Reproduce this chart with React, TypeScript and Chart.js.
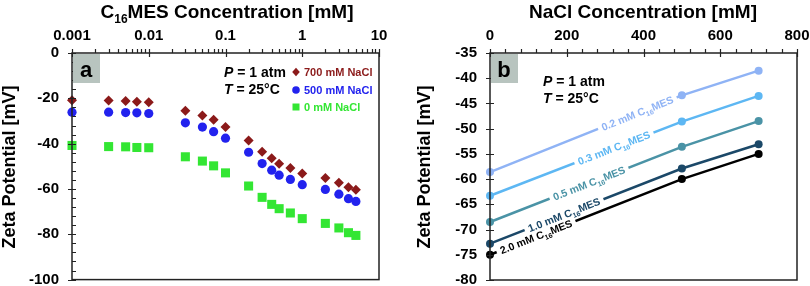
import React, { useEffect, useRef } from "react";
import { Chart, registerables } from "chart.js";
Chart.register(...registerables);

// ---------- Panel a data ----------
const concA = [0.001, 0.003, 0.005, 0.007, 0.01, 0.03, 0.05, 0.07, 0.1, 0.2, 0.3, 0.4, 0.5, 0.7, 1, 2, 3, 4, 5];
const zeta700 = [-20.8, -21, -21.2, -21.5, -21.7, -25.5, -27.6, -29.5, -32.7, -38.6, -43.6, -46.5, -48.9, -50.8, -53.2, -55.2, -57.3, -59.2, -60.4];
const zeta500 = [-26.1, -26.1, -26.3, -26.4, -26.7, -30.8, -32.7, -34.7, -37.6, -43.8, -48.8, -51.7, -53.9, -55.8, -58.1, -60.2, -62.3, -64.3, -65.5];
const zeta0 = [-40.8, -41.3, -41.4, -41.7, -41.8, -45.8, -47.7, -49.8, -52.9, -58.7, -63.7, -66.8, -68.7, -70.6, -73.1, -75.2, -77.2, -79.3, -80.5];
const seriesNamesA = ["700 mM NaCl", "500 mM NaCl", "0 mM NaCl"];
const xTicksA = [0.001, 0.01, 0.1, 1, 10];
const xTickLabelsA = ["0.001", "0.01", "0.1", "1", "10"];

// ---------- Panel b data ----------
const naclB = [0, 500, 700];
const z02 = [-58.6, -43.4, -38.5];
const z03 = [-63.3, -48.6, -43.5];
const z05 = [-68.5, -53.6, -48.5];
const z10 = [-72.8, -57.9, -53.1];
const z20 = [-75.0, -60.0, -55.0];
const labelsB = ["0.2", "0.3", "0.5", "1.0", "2.0"];
const labelPosB = [384, 323, 258, 193, 120];
const xTicksB = [0, 200, 400, 600, 800];

const FONT = "'Liberation Sans', Arial, sans-serif";
const colorsA = ["#8b1a1a", "#2222ee", "#33e633"];
const colorsB = ["#8fb3f5", "#5db7f3", "#4a93a6", "#1b4868", "#000000"];

type Part = { t: string; sub?: boolean; it?: boolean };

function drawParts(ctx: CanvasRenderingContext2D, parts: Part[], x: number, y: number, size: number, align: "left" | "center", color: string) {
  const fontFor = (p: Part) => `${p.it ? "italic " : ""}bold ${p.sub ? Math.round(size * 0.62) : size}px ${FONT}`;
  let total = 0;
  for (const p of parts) { ctx.font = fontFor(p); total += ctx.measureText(p.t).width; }
  let cx = align === "center" ? x - total / 2 : x;
  ctx.fillStyle = color;
  ctx.textAlign = "left";
  ctx.textBaseline = "alphabetic";
  for (const p of parts) {
    ctx.font = fontFor(p);
    ctx.fillText(p.t, cx, p.sub ? y + size * 0.28 : y);
    cx += ctx.measureText(p.t).width;
  }
  return total;
}

function measureParts(ctx: CanvasRenderingContext2D, parts: Part[], size: number) {
  let total = 0;
  for (const p of parts) {
    ctx.font = `bold ${p.sub ? Math.round(size * 0.62) : size}px ${FONT}`;
    total += ctx.measureText(p.t).width;
  }
  return total;
}

function drawFrameAndTicks(chart: any, xMajor: number[], xMinor: number[], yMajor: number[], yMinor: number[]) {
  const ctx: CanvasRenderingContext2D = chart.ctx;
  const { left, right, top, bottom } = chart.chartArea;
  const xs = chart.scales.x, ys = chart.scales.y;
  ctx.save();
  ctx.strokeStyle = "#222";
  ctx.lineWidth = 1.5;
  ctx.strokeRect(left, top, right - left, bottom - top);
  ctx.beginPath();
  for (const v of xMajor) { const px = Math.round(xs.getPixelForValue(v)) + 0.5; ctx.moveTo(px, top - 4); ctx.lineTo(px, top + 4); }
  for (const v of xMinor) { const px = Math.round(xs.getPixelForValue(v)) + 0.5; ctx.moveTo(px, top - 4); ctx.lineTo(px, top); }
  for (const v of yMajor) { const py = Math.round(ys.getPixelForValue(v)) + 0.5; ctx.moveTo(left - 4, py); ctx.lineTo(left + 4, py); }
  for (const v of yMinor) { const py = Math.round(ys.getPixelForValue(v)) + 0.5; ctx.moveTo(left, py); ctx.lineTo(left + 4, py); }
  ctx.lineWidth = 1.2;
  ctx.stroke();
  ctx.restore();
}

function drawBadge(chart: any, letter: string) {
  const ctx: CanvasRenderingContext2D = chart.ctx;
  const { left, top } = chart.chartArea;
  ctx.save();
  ctx.fillStyle = "#b8c4bf";
  ctx.fillRect(left + 1, top + 1, 27, 29);
  ctx.fillStyle = "#000";
  ctx.font = `bold 22px ${FONT}`;
  ctx.textAlign = "center";
  ctx.textBaseline = "alphabetic";
  ctx.fillText(letter, left + 14, top + 24);
  ctx.restore();
}

function drawMarker(ctx: CanvasRenderingContext2D, kind: string, x: number, y: number, r: number, color: string) {
  ctx.fillStyle = color;
  ctx.beginPath();
  if (kind === "circle") ctx.arc(x, y, r, 0, Math.PI * 2);
  else if (kind === "rect") ctx.rect(x - r, y - r, 2 * r, 2 * r);
  else { ctx.moveTo(x, y - r - 0.5); ctx.lineTo(x + r, y); ctx.lineTo(x, y + r + 0.5); ctx.lineTo(x - r, y); ctx.closePath(); }
  ctx.fill();
}

const zeroPad = (s: any) => { s.paddingLeft = 0; s.paddingRight = 0; s.paddingTop = 0; s.paddingBottom = 0; };

export default function App() {
  const refA = useRef<HTMLCanvasElement>(null);
  const refB = useRef<HTMLCanvasElement>(null);

  useEffect(() => {
    // minor ticks (axis decoration only)
    const xMinorA: number[] = [];
    for (let e = -3; e < 1; e++) for (let m = 2; m <= 9; m++) xMinorA.push(m * Math.pow(10, e));
    const yMajorA = [-100, -80, -60, -40, -20, 0];
    const yMinorA: number[] = [];
    for (let v = -96; v < 0; v += 4) if (v % 20 !== 0) yMinorA.push(v);
    const xMinorB: number[] = [];
    for (let v = 40; v < 800; v += 40) if (v % 200 !== 0) xMinorB.push(v);
    const yMajorB = [-80, -75, -70, -65, -60, -55, -50, -45, -40, -35];

    const tickFont = { family: FONT, size: 15, weight: "bold" as const };

    const pluginA = {
      id: "decorA",
      afterDatasetsDraw(chart: any) {
        const ctx: CanvasRenderingContext2D = chart.ctx;
        drawFrameAndTicks(chart, xTicksA, xMinorA, yMajorA, yMinorA);
        drawBadge(chart, "a");
        ctx.save();
        drawParts(ctx, [{ t: "P", it: true }, { t: " = 1 atm" }], 224, 77, 14, "left", "#000");
        drawParts(ctx, [{ t: "T", it: true }, { t: " = 25°C" }], 224, 94, 14, "left", "#000");
        const kinds = ["rectRot", "circle", "rect"];
        const ly = [72, 90, 107];
        for (let i = 0; i < 3; i++) {
          drawMarker(ctx, kinds[i], 296, ly[i], kinds[i] === "rect" ? 3.5 : 3.8, colorsA[i]);
          ctx.font = `bold 11px ${FONT}`;
          ctx.fillStyle = colorsA[i];
          ctx.textAlign = "left";
          ctx.textBaseline = "middle";
          ctx.fillText(seriesNamesA[i], 304, ly[i] + 0.5);
        }
        drawParts(ctx, [{ t: "C" }, { t: "16", sub: true }, { t: "MES Concentration [mM]" }], 227, 18, 19, "center", "#000");
        ctx.translate(10, 167);
        ctx.rotate(-Math.PI / 2);
        ctx.font = `bold 18px ${FONT}`;
        ctx.fillStyle = "#000";
        ctx.textAlign = "center";
        ctx.textBaseline = "middle";
        ctx.fillText("Zeta Potential [mV]", 0, 0);
        ctx.restore();
      },
    };

    const chartA = new Chart(refA.current!, {
      type: "scatter",
      data: {
        datasets: [
          { label: seriesNamesA[2], data: concA.map((x, i) => ({ x, y: zeta0[i] })), pointStyle: "rect", pointRadius: 6.4, pointHoverRadius: 6.4, backgroundColor: colorsA[2], borderColor: colorsA[2], borderWidth: 0, clip: false as any },
          { label: seriesNamesA[1], data: concA.map((x, i) => ({ x, y: zeta500[i] })), pointStyle: "circle", pointRadius: 4.6, pointHoverRadius: 4.6, backgroundColor: colorsA[1], borderColor: colorsA[1], borderWidth: 0, clip: false as any },
          { label: seriesNamesA[0], data: concA.map((x, i) => ({ x, y: zeta700[i] })), pointStyle: "rectRot", pointRadius: 5, pointHoverRadius: 5, backgroundColor: colorsA[0], borderColor: colorsA[0], borderWidth: 0, clip: false as any },
        ],
      },
      options: {
        animation: false,
        responsive: false,
        layout: { padding: { left: 0, right: 21, top: 0, bottom: 6 } },
        plugins: { legend: { display: false }, tooltip: { enabled: false } },
        scales: {
          x: {
            type: "logarithmic",
            position: "top",
            min: 0.001,
            max: 10,
            grid: { display: false, drawTicks: false },
            border: { display: false },
            afterBuildTicks: (s: any) => { s.ticks = xTicksA.map((v) => ({ value: v })); },
            afterFit: (s: any) => { s.height = 53; zeroPad(s); },
            ticks: { autoSkip: false, maxRotation: 0, color: "#000", font: tickFont, padding: 8, callback: (_v: any, i: number) => xTickLabelsA[i] },
          },
          y: {
            min: -100,
            max: 0,
            grid: { display: false, drawTicks: false },
            border: { display: false },
            afterFit: (s: any) => { s.width = 72; zeroPad(s); },
            ticks: { stepSize: 20, color: "#000", font: tickFont, padding: 13 },
          },
        },
      },
      plugins: [pluginA],
    } as any);

    const seriesB = [z02, z03, z05, z10, z20];

    const pluginB = {
      id: "decorB",
      afterDatasetsDraw(chart: any) {
        const ctx: CanvasRenderingContext2D = chart.ctx;
        drawFrameAndTicks(chart, xTicksB, xMinorB, yMajorB, []);
        drawBadge(chart, "b");
        const xs = chart.scales.x, ys = chart.scales.y;
        ctx.save();
        for (let i = 0; i < seriesB.length; i++) {
          const s = seriesB[i];
          const px0 = xs.getPixelForValue(naclB[0]), py0 = ys.getPixelForValue(s[0]);
          const px1 = xs.getPixelForValue(naclB[1]), py1 = ys.getPixelForValue(s[1]);
          const ang = Math.atan2(py1 - py0, px1 - px0);
          const px = xs.getPixelForValue(labelPosB[i]);
          const py = py0 + ((px - px0) * (py1 - py0)) / (px1 - px0);
          const parts: Part[] = [{ t: labelsB[i] + " mM C" }, { t: "16", sub: true }, { t: "MES" }];
          const w = measureParts(ctx, parts, 10.5);
          ctx.save();
          ctx.translate(px, py);
          ctx.rotate(ang);
          ctx.fillStyle = "#fff";
          ctx.fillRect(-w / 2 - 4, -4, w + 8, 8);
          drawParts(ctx, parts, 0, 3.8, 10.5, "center", colorsB[i]);
          ctx.restore();
        }
        drawParts(ctx, [{ t: "P", it: true }, { t: " = 1 atm" }], 143, 86, 14, "left", "#000");
        drawParts(ctx, [{ t: "T", it: true }, { t: " = 25°C" }], 143, 103, 14, "left", "#000");
        drawParts(ctx, [{ t: "NaCl Concentration [mM]" }], 243, 18, 19, "center", "#000");
        ctx.translate(25, 167);
        ctx.rotate(-Math.PI / 2);
        ctx.font = `bold 18px ${FONT}`;
        ctx.fillStyle = "#000";
        ctx.textAlign = "center";
        ctx.textBaseline = "middle";
        ctx.fillText("Zeta Potential [mV]", 0, 0);
        ctx.restore();
      },
    };

    const chartB = new Chart(refB.current!, {
      type: "line",
      data: {
        datasets: seriesB.map((s, i) => ({
          label: labelsB[i] + " mM C16MES",
          data: naclB.map((x, j) => ({ x, y: s[j] })),
          borderColor: colorsB[i],
          backgroundColor: colorsB[i],
          pointBackgroundColor: colorsB[i],
          pointBorderWidth: 0,
          pointRadius: 4,
          pointHoverRadius: 4,
          borderWidth: 2.5,
          tension: 0,
          fill: false,
          clip: false as any,
        })),
      },
      options: {
        animation: false,
        responsive: false,
        layout: { padding: { left: 0, right: 13, top: 0, bottom: 6 } },
        plugins: { legend: { display: false }, tooltip: { enabled: false } },
        scales: {
          x: {
            type: "linear",
            position: "top",
            min: 0,
            max: 800,
            grid: { display: false, drawTicks: false },
            border: { display: false },
            afterFit: (s: any) => { s.height = 53; zeroPad(s); },
            ticks: { stepSize: 200, maxRotation: 0, color: "#000", font: tickFont, padding: 8 },
          },
          y: {
            min: -80,
            max: -35,
            grid: { display: false, drawTicks: false },
            border: { display: false },
            afterFit: (s: any) => { s.width = 90; zeroPad(s); },
            ticks: { stepSize: 5, color: "#000", font: tickFont, padding: 13 },
          },
        },
      },
      plugins: [pluginB],
    } as any);

    return () => { chartA.destroy(); chartB.destroy(); };
  }, []);

  return (
    <div style={{ position: "fixed", left: 0, top: 0, width: 810, height: 286, background: "#fff" }}>
      <canvas ref={refA} width={400} height={286} style={{ position: "absolute", left: 0, top: 0 }} />
      <canvas ref={refB} width={410} height={286} style={{ position: "absolute", left: 400, top: 0 }} />
    </div>
  );
}
